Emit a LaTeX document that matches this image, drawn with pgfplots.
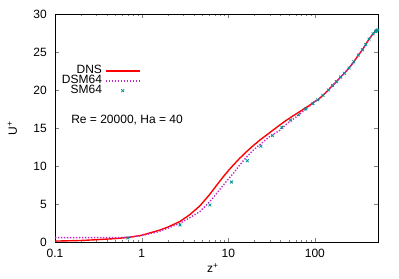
\documentclass[border=0pt]{standalone}
\usepackage{pgfplots}
\pgfplotsset{compat=1.18}
\usepackage{fontspec}
\setmainfont{Liberation Sans}
\definecolor{dnsred}{RGB}{255,0,0}
\definecolor{dsmmag}{RGB}{190,40,200}
\definecolor{smteal}{RGB}{0,150,150}
\begin{document}
\fontsize{12bp}{14bp}\selectfont
\begin{tikzpicture}
\begin{axis}[
  scale only axis, width=323bp, height=228bp,
  xmode=log, xmin=0.1, xmax=535, ymin=0, ymax=30,
  xtick={0.1,1,10,100}, xticklabels={0.1,1,10,100},
  ytick={0,5,10,15,20,25,30},
  /pgf/number format/assume math mode=true,
  tick align=inside, major tick length=4.5bp, minor tick length=2.5bp,
  xticklabel style={yshift=-3bp},
  yticklabel style={xshift=-4bp},
  every tick label/.append style={font=\fontsize{12bp}{14bp}\selectfont},
  label style={font=\fontsize{12bp}{14bp}\selectfont},
  xlabel={z\textsuperscript{+}}, ylabel={U\textsuperscript{+}},
  xlabel style={at={(axis description cs:0.489,-0.114)}, anchor=center},
  ylabel style={at={(axis description cs:-0.132,0.5)}, anchor=center},
  axis line style={line width=0.8pt},
  legend plot pos=right,
  legend cell align=right,
  legend image code/.code={\draw[mark repeat=2,mark phase=2,#1] plot coordinates {(0bp,0bp) (17bp,0bp) (34bp,0bp)};},
  legend style={draw=none, fill=none, inner sep=0pt, at={(rel axis cs:0.265,0.772)}, anchor=north east,
    font=\fontsize{12bp}{14bp}\selectfont,
    nodes={inner xsep=3bp, inner ysep=0pt, text height=7.7bp, text depth=2.1bp}},
]
\addplot[color=dnsred, line width=1.4pt, no marks] coordinates {
(0.1,0.12) (0.2,0.2) (0.3,0.3) (0.5,0.45) (0.7,0.6) (1,0.88) (1.25,1.2) (1.6,1.55) (2,1.95) (2.77,2.7) (3.6,3.6) (4.7,4.75) (6.1,6.25) (7.5,7.6) (9,8.75) (10.4,9.6) (11.4,10.1) (13.5,11.0) (16.3,11.9) (19.5,12.7) (23.1,13.4) (30.2,14.4) (39.4,15.4) (48,16.1) (56,16.6) (70,17.3) (87,18.0) (100,18.5) (108,18.7) (124,19.3) (143,20.0) (160,20.6) (177,21.1) (198,21.7) (219,22.2) (248,22.9) (281,23.7) (318,24.6) (354,25.3) (386,26.0) (422,26.7) (470,27.4) (500,27.7) (514,27.8) (535,28.0)
};
\addlegendentry{DNS}
\addplot[color=dsmmag, line width=1.4pt, dash pattern=on 1.3bp off 1.7bp, no marks] coordinates {
(0.1,0.57) (0.3,0.57) (0.5,0.58) (0.7,0.62) (1,0.85) (1.5,1.3) (2,1.8) (2.77,2.46) (3.6,3.2) (4.7,4.0) (6.1,5.3) (6.7,5.85) (8.5,7.3) (10.4,8.5) (11.4,9.0) (13.5,10.1) (16.3,11.2) (19.5,12.1) (23.1,12.8) (30.2,13.9) (39.4,14.7) (48,15.6) (61.4,16.5) (75,17.3) (87,17.9) (100,18.5) (108,18.7) (124,19.3) (143,20.0) (160,20.6) (177,21.1) (198,21.7) (219,22.2) (248,22.9) (281,23.7) (318,24.6) (354,25.3) (386,26.0) (422,26.7) (470,27.4) (500,27.7) (514,27.8) (535,28.0)
};
\addlegendentry{DSM64}
\addplot[color=smteal, only marks, mark=x, mark size=2bp, line width=0.8pt] coordinates {
(0.695,0.53) (2.77,2.24) (6.14,4.87) (10.9,7.9) (16.6,10.7) (23.8,12.6) (32.4,14.0) (41.5,15.1) (52.2,16.05) (64.7,16.75) (78.5,17.5) (95,18.2) (108,18.7) (124,19.3) (143,20.0) (160,20.6) (177,21.1) (198,21.7) (219,22.2) (248,22.9) (281,23.7) (318,24.6) (354,25.3) (386,26.0) (422,26.7) (470,27.4) (500,27.7) (514,27.8) (530,27.9)
};
\addlegendentry{SM64}
\node[font=\fontsize{12bp}{14bp}\selectfont] at (rel axis cs:0.223,0.535) {Re = 20000, Ha = 40};
\end{axis}
\pgfresetboundingbox
\useasboundingbox (-55bp,-37bp) rectangle (344bp,242bp);
\end{tikzpicture}
\end{document}
